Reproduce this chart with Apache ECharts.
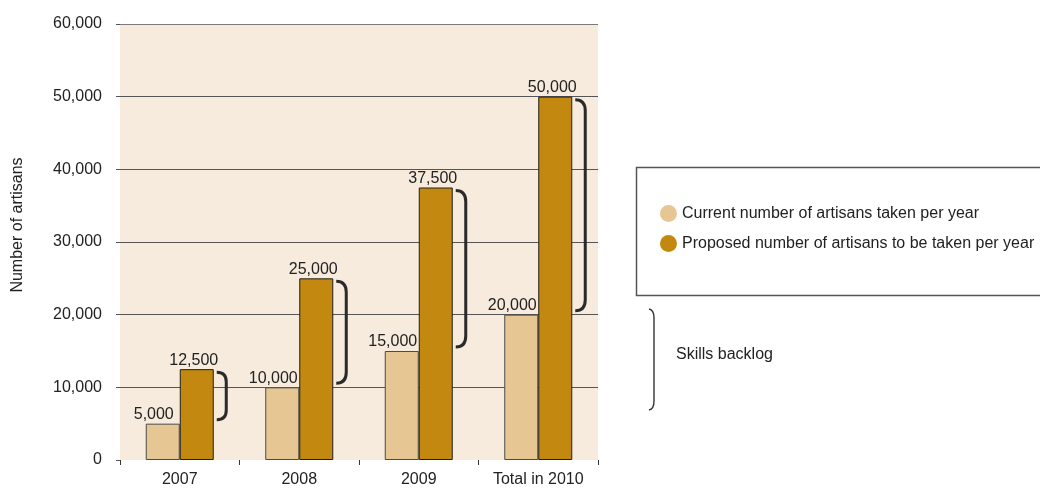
<!DOCTYPE html>
<html>
<head>
<meta charset="utf-8">
<script src="https://cdn.jsdelivr.net/npm/echarts@6/dist/echarts.min.js"></script>
<style>
  html, body { margin: 0; padding: 0; background: #ffffff; }
  #chart { width: 1040px; height: 488px; }
</style>
</head>
<body>
<div id="chart"></div>
<script>
const categories = ['2007', '2008', '2009', 'Total in 2010'];
const currentValues = [5000, 10000, 15000, 20000];
const proposedValues = [12500, 25000, 37500, 50000];
const seriesNames = ['Current number of artisans taken per year', 'Proposed number of artisans to be taken per year'];
const yTicks = [0, 10000, 20000, 30000, 40000, 50000, 60000];

const FONT = '"Liberation Sans", Arial, sans-serif';
const FS = 16;
const BAR_W = 34;
const fmt = v => v.toLocaleString('en-US');

const braceData = categories.map((c, i) => [i, currentValues[i], proposedValues[i]]);

const braceStyle = { fill: 'none', stroke: '#333', lineWidth: 1.4 };

const chart = echarts.init(document.getElementById('chart'));
chart.setOption({
  animation: false,
  textStyle: { fontFamily: FONT },
  grid: {
    left: 120, right: 442, top: 24, bottom: 27,
    show: true, backgroundColor: '#F6EBDC', borderWidth: 0
  },
  legend: {
    data: seriesNames,
    orient: 'vertical',
    left: 655, top: 200,
    icon: 'circle',
    itemWidth: 17, itemHeight: 17, itemGap: 13,
    itemStyle: { borderWidth: 0 },
    textStyle: { fontFamily: FONT, fontSize: FS, color: '#222' },
    selectedMode: false
  },
  xAxis: {
    type: 'category',
    data: categories,
    axisLine: { show: false },
    axisTick: { show: true, length: 5, lineStyle: { color: '#333' } },
    axisLabel: { interval: 0, fontFamily: FONT, fontSize: FS, color: '#222', margin: 12 }
  },
  yAxis: {
    type: 'value',
    min: yTicks[0], max: yTicks[yTicks.length - 1], interval: yTicks[1] - yTicks[0],
    name: 'Number of artisans',
    nameLocation: 'middle',
    nameRotate: 90,
    nameGap: 94,
    nameTextStyle: { fontFamily: FONT, fontSize: FS, color: '#222', padding: [0, 0, 0, 34] },
    axisLine: { show: false },
    axisTick: { show: true, length: 4, lineStyle: { color: '#555' } },
    axisLabel: { fontFamily: FONT, fontSize: FS, color: '#222', margin: 18, formatter: v => fmt(v) },
    splitLine: { show: true, lineStyle: { color: ['transparent', '#555', '#555', '#555', '#555', '#555', '#7a7a7a'], width: 1.2 } }
  },
  series: [
    {
      name: seriesNames[0],
      type: 'bar',
      data: currentValues,
      barWidth: BAR_W,
      barGap: '0%',
      itemStyle: { color: '#E6C794', borderColor: '#4a4a4a', borderWidth: 1 },
      label: { show: true, position: 'top', distance: 1, offset: [-9, 0], fontFamily: FONT, fontSize: FS, color: '#222', formatter: p => fmt(p.value) }
    },
    {
      name: seriesNames[1],
      type: 'bar',
      data: proposedValues,
      barWidth: BAR_W,
      itemStyle: { color: '#C2880F', borderColor: '#1e1e1e', borderWidth: 1 },
      label: { show: true, position: 'top', distance: 1, offset: [-3, 0], fontFamily: FONT, fontSize: FS, color: '#222', formatter: p => fmt(p.value) }
    },
    {
      name: 'brace',
      type: 'custom',
      data: braceData,
      encode: { x: 0, y: [1, 2] },
      silent: true,
      z: 5,
      renderItem: function (params, api) {
        const top = api.coord([api.value(0), api.value(2)]);
        const bot = api.coord([api.value(0), api.value(1)]);
        const x0 = top[0] + BAR_W + 3;
        const yT = top[1] + 3;
        const yB = bot[1] - 4;
        const h = yB - yT;
        const r = Math.min(11, h / 5);
        const w = Math.min(10, h / 5);
        const path = `M${x0} ${yT} Q${x0 + w} ${yT} ${x0 + w} ${yT + r} L${x0 + w} ${yB - r} Q${x0 + w} ${yB} ${x0} ${yB}`;
        return {
          type: 'path',
          shape: { pathData: path },
          style: { fill: 'none', stroke: '#2a2a2a', lineWidth: 3 }
        };
      }
    }
  ],
  graphic: [
    {
      type: 'rect',
      shape: { x: 636.5, y: 167.5, width: 420, height: 128 },
      style: { fill: 'none', stroke: '#555', lineWidth: 1.5 },
      silent: true
    },
    {
      type: 'bezierCurve',
      shape: { x1: 649, y1: 309, cpx1: 654, cpy1: 310, x2: 654, y2: 318 },
      style: braceStyle,
      silent: true
    },
    {
      type: 'line',
      shape: { x1: 654, y1: 318, x2: 654, y2: 401 },
      style: braceStyle,
      silent: true
    },
    {
      type: 'bezierCurve',
      shape: { x1: 654, y1: 401, cpx1: 654, cpy1: 409, x2: 649, y2: 410 },
      style: braceStyle,
      silent: true
    },
    {
      type: 'text',
      x: 676, y: 355,
      style: { text: 'Skills backlog', fontFamily: FONT, fontSize: FS, fill: '#222', verticalAlign: 'middle' },
      silent: true
    }
  ]
});
</script>
</body>
</html>
